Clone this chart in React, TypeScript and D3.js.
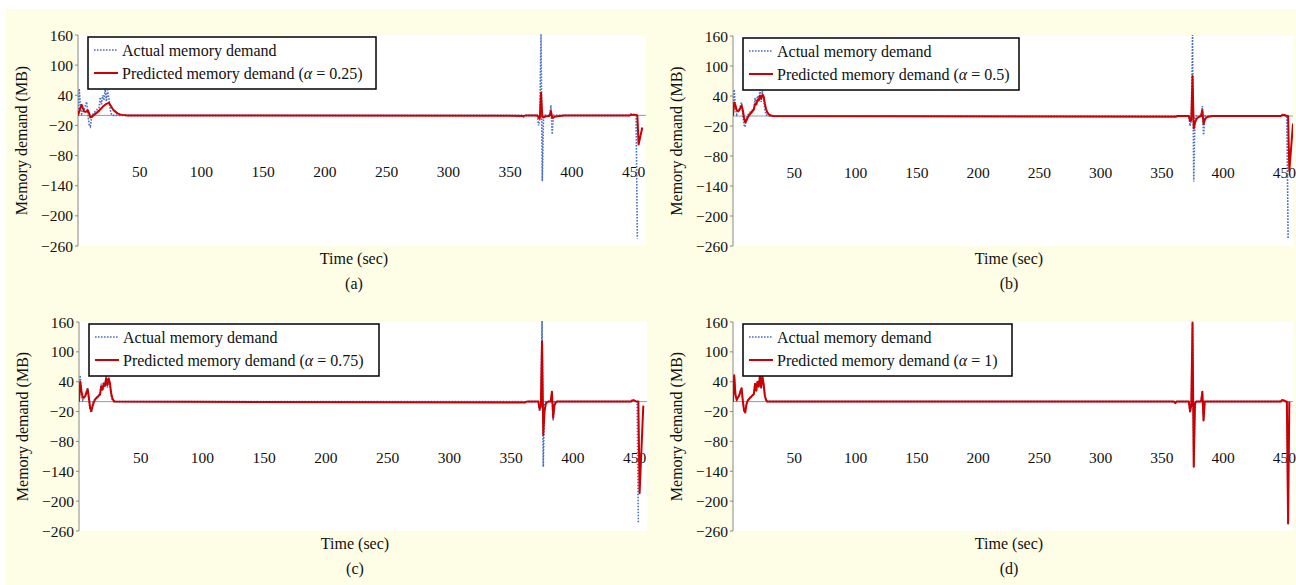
import React from 'react';
import * as d3 from 'd3';

// axis ticks
const yTicks = [160, 100, 40, -20, -80, -140, -200, -260];
const xTicks = [50, 100, 150, 200, 250, 300, 350, 400, 450];

const actualTime = [
  0, 1, 2, 3, 4, 5, 6, 7, 8, 9, 10, 11, 12, 13, 14, 15, 16, 17, 18, 19, 20, 21, 22, 23, 24, 25, 26, 27, 28,
  360, 361, 362, 372, 373, 374, 375, 376, 377, 378, 382, 383, 384, 385, 447, 448, 449, 450, 451, 452, 453,
];
const actualDemand = [
  0, 53, 15, 3, 8, 12, 20, 27, 2, -18, -22, -5, 2, 5, 8, 10, 13, 15, 36, 22, 40, 30, 52, 28, 50, 35, 12, 3, 0,
  0, -3, 0, 0, -20, -8, 162, -131, -4, 0, 0, 20, -38, 0, 0, 3, 3, 2, 0, 0, -245,
];

// predicted, alpha = 0.25
const predTimeA = [
  0, 1, 2, 3, 4, 5, 6, 7, 8, 9, 10, 11, 12, 13, 14, 15, 16, 17, 18, 19, 20, 21, 22, 23, 24, 25, 26, 27, 28, 29, 30, 31, 32, 33, 34, 36, 40,
  361, 363, 372, 373, 374, 375, 376, 377, 378, 379, 381, 382, 383, 384, 385, 386, 388, 390, 394,
  447, 448, 450, 452, 453, 454, 457,
];
const predA = [
  0, 8, 16, 21, 14, 8, 7, 8, 10, 4, -4, -3, -1, 1, 3, 5, 7, 9, 12, 14, 17, 19, 21, 23, 24, 25, 21, 17, 13, 10, 8, 6, 4, 3, 2, 1, 0,
  -1, 0, 0, -5, -6, 45, -3, -4, -3, -2, -1, -1, 9, -5, -4, -3, -2, -1, 0,
  0, 1, 1.5, 1, 0, -58, -24,
];

// predicted, alpha = 0.5
const predTimeB = [
  0, 1, 2, 3, 4, 5, 6, 7, 8, 9, 10, 11, 12, 13, 14, 15, 16, 17, 18, 19, 20, 21, 22, 23, 24, 25, 26, 27, 28, 29, 30, 31, 33,
  361, 362, 363, 372, 373, 374, 375, 376, 377, 378, 379, 380, 381, 382, 383, 384, 385, 386, 387, 389, 391,
  447, 448, 449, 450, 451, 452, 453, 454, 457,
];
const predB = [
  0, 27, 21, 12, 10, 11, 16, 21, 12, -3, -13, -9, -3, 1, 4, 7, 10, 13, 24, 23, 32, 31, 41, 35, 42, 39, 25, 14, 7, 4, 2, 1, 0,
  -1.5, -0.5, 0, 0, -10, -9, 80, -25, -14, -7, -4, -2, -1, 0, 12, -16, -8, -4, -2, -1, 0,
  0, 1.5, 2, 2, 1, 0.5, 0, -110, -15,
];

// predicted, alpha = 0.75
const predTimeC = [
  0, 1, 2, 3, 4, 5, 6, 7, 8, 9, 10, 11, 12, 13, 14, 15, 16, 17, 18, 19, 20, 21, 22, 23, 24, 25, 26, 27, 28, 29,
  361, 362, 363, 372, 373, 374, 375, 376, 377, 378, 379, 380, 382, 383, 384, 385, 386, 387,
  447, 448, 449, 450, 451, 452, 453, 454, 457,
];
const predC = [
  0, 40, 21, 8, 8, 11, 18, 25, 8, -12, -19, -9, -1, 4, 7, 9, 12, 14, 31, 24, 36, 32, 47, 33, 46, 38, 18, 7, 2, 0,
  -2, -0.5, 0, 0, -15, -10, 121, -67, -20, -5, -1, 0, 0, 20, -32, -8, -2, 0,
  0, 2, 3, 2, 0.5, 0, 0, -184, -8,
];

// predicted, alpha = 1 (lies on top of the actual demand)
const predTimeD = [
  0, 1, 2, 3, 4, 5, 6, 7, 8, 9, 10, 11, 12, 13, 14, 15, 16, 17, 18, 19, 20, 21, 22, 23, 24, 25, 26, 27, 28,
  360, 361, 362, 372, 373, 374, 375, 376, 377, 378, 382, 383, 384, 385, 447, 448, 449, 450, 451, 452, 453, 454,
];
const predD = [
  0, 53, 15, 3, 8, 12, 20, 27, 2, -18, -22, -5, 2, 5, 8, 10, 13, 15, 36, 22, 40, 30, 52, 28, 50, 35, 12, 3, 0,
  0, -3, 0, 0, -20, -8, 158, -131, -4, 0, 0, 20, -38, 0, 0, 3, 3, 2, 0, 0, -245, 0,
];

const panels = [
  { key: 'a', left: 78, right: 646, top: 35, bottom: 246, xMax: 460, alpha: '0.25', legendW: 288, t: predTimeA, v: predA },
  { key: 'b', left: 733, right: 1293, top: 36, bottom: 246, xMax: 457, alpha: '0.5', legendW: 276, t: predTimeB, v: predB },
  { key: 'c', left: 79, right: 647, top: 322, bottom: 531, xMax: 460, alpha: '0.75', legendW: 290, t: predTimeC, v: predC },
  { key: 'd', left: 733, right: 1293, top: 322, bottom: 531, xMax: 457, alpha: '1', legendW: 269, t: predTimeD, v: predD },
];

const FONT = '"Liberation Serif", "Times New Roman", serif';
const BLUE = '#4a6fc4';
const RED = '#cc0000';

type P = (typeof panels)[number];

function Panel({ p }: { p: P }) {
  const x = d3.scaleLinear().domain([0, p.xMax]).range([p.left, p.right]);
  const y = d3.scaleLinear().domain([-260, 160]).range([p.bottom, p.top]);
  const line = d3
    .line<[number, number]>()
    .x((d) => x(d[0]))
    .y((d) => y(d[1]));

  const actualPts = actualTime.map((t, i) => [t, actualDemand[i]] as [number, number]);
  const predPts = p.t.map((t, i) => [t, p.v[i]] as [number, number]);
  const clipId = `clip-${p.key}`;
  const y0 = y(0);
  const lx = p.left + 10;
  const ly = p.top + 2;

  return (
    <g>
      <defs>
        <clipPath id={clipId}>
          <rect x={p.left} y={p.top - 1} width={p.right - p.left} height={p.bottom - p.top + 2} />
        </clipPath>
      </defs>
      <rect x={p.left} y={p.top} width={p.right - p.left} height={p.bottom - p.top} fill="#fff" />

      {/* zero line */}
      <line x1={p.left} x2={p.right} y1={y0} y2={y0} stroke="#999" strokeWidth={1} />

      {/* y axis */}
      <line x1={p.left} x2={p.left} y1={p.top} y2={p.bottom} stroke="#888" strokeWidth={1} />
      {yTicks.map((t) => (
        <g key={t}>
          <line x1={p.left - 3} x2={p.left} y1={y(t)} y2={y(t)} stroke="#888" />
          <text x={p.left - 5} y={y(t)} textAnchor="end" dominantBaseline="central" fontSize={15.5} fontFamily={FONT} fill="#111">
            {t < 0 ? `\u2212${-t}` : t}
          </text>
        </g>
      ))}

      {/* x tick labels */}
      {xTicks.map((t) => (
        <text key={t} x={x(t)} y={y0 + 56} textAnchor="middle" dominantBaseline="central" fontSize={15.5} fontFamily={FONT} fill="#111">
          {t}
        </text>
      ))}

      <g clipPath={`url(#${clipId})`}>
        <path d={line(actualPts) || ''} fill="none" stroke={BLUE} strokeWidth={1.6} strokeDasharray="1.6 1.4" />
        <path d={line(predPts) || ''} fill="none" stroke={RED} strokeWidth={2} strokeLinejoin="round" />
      </g>

      {/* legend */}
      <rect x={lx} y={ly} width={p.legendW} height={52} fill="#fff" stroke="#000" strokeWidth={1.5} />
      <line x1={lx + 6} x2={lx + 30} y1={ly + 13} y2={ly + 13} stroke={BLUE} strokeWidth={1.6} strokeDasharray="1.6 1.4" />
      <line x1={lx + 6} x2={lx + 30} y1={ly + 36} y2={ly + 36} stroke={RED} strokeWidth={2} />
      <text x={lx + 34} y={ly + 13} dominantBaseline="central" fontSize={16} fontFamily={FONT} fill="#111">
        Actual memory demand
      </text>
      <text x={lx + 34} y={ly + 36} dominantBaseline="central" fontSize={16} fontFamily={FONT} fill="#111">
        Predicted memory demand (<tspan fontStyle="italic">α</tspan> = {p.alpha})
      </text>

      {/* axis titles */}
      <text
        transform={`translate(${p.left - 57},${(p.top + p.bottom) / 2}) rotate(-90)`}
        textAnchor="middle"
        dominantBaseline="central"
        fontSize={16}
        fontFamily={FONT}
        fill="#111"
      >
        Memory demand (MB)
      </text>
      <text x={p.left + 276} y={p.bottom + 12} textAnchor="middle" dominantBaseline="central" fontSize={16} fontFamily={FONT} fill="#111">
        Time (sec)
      </text>
      <text x={p.left + 276} y={p.bottom + 37} textAnchor="middle" dominantBaseline="central" fontSize={16} fontFamily={FONT} fill="#111">
        ({p.key})
      </text>
    </g>
  );
}

export default function App() {
  return (
    <svg width={1296} height={585} style={{ position: 'absolute', left: 0, top: 0 }}>
      <rect x={6} y={9} width={1290} height={576} fill="#fefde6" />
      {panels.map((p) => (
        <Panel key={p.key} p={p} />
      ))}
    </svg>
  );
}
